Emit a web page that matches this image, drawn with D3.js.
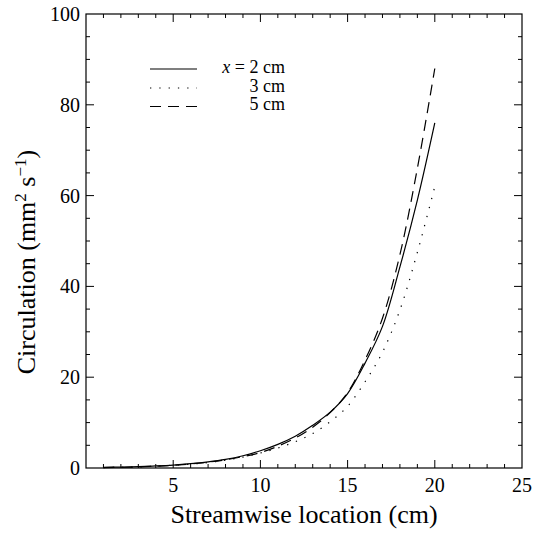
<!DOCTYPE html>
<html><head><meta charset="utf-8">
<script src="https://cdn.jsdelivr.net/npm/d3@7"></script>
<style>body{margin:0;background:#fff}svg{display:block}
svg text{font-family:"Liberation Serif","DejaVu Serif","Noto Serif",serif;}</style>
</head><body>
<script>
const xs = [1,2,3,4,5,6,7,8,9,10,11,12,13,14,15,16,17,18,19,20];
const solid  = [0.15,0.2,0.3,0.45,0.65,0.95,1.35,1.9,2.7,3.8,5.2,7.0,9.4,12.3,16.4,23.1,31.2,44.3,59,76];
const dotted = [0.1,0.15,0.25,0.4,0.6,0.85,1.2,1.7,2.4,3.3,4.4,5.8,7.6,10.2,13.6,19,25.5,34.8,47.5,62];
const dashed = [0.1,0.15,0.25,0.4,0.6,0.9,1.3,1.8,2.5,3.4,4.8,6.6,9.0,12.2,16.6,23.8,33,47,66,88];
const legendLabels = ["2 cm","3 cm","5 cm"];
const xTicks = [5,10,15,20,25];
const yTicks = [0,20,40,60,80,100];

const W=533,H=537;
const svg=d3.select("body").append("svg").attr("width",W).attr("height",H);
const x=d3.scaleLinear().domain([0,25]).range([86,522]);
const y=d3.scaleLinear().domain([0,100]).range([468,14]);

// frame
svg.append("rect").attr("x",86).attr("y",14).attr("width",436).attr("height",454)
  .attr("fill","none").attr("stroke","#000").attr("stroke-width",1.2);

// ticks
const g=svg.append("g").attr("stroke","#000").attr("stroke-width",1);
d3.range(1,25).forEach(v=>{
  const L = v%5===0?8:4;
  g.append("line").attr("x1",x(v)).attr("x2",x(v)).attr("y1",468).attr("y2",468-L);
  g.append("line").attr("x1",x(v)).attr("x2",x(v)).attr("y1",14).attr("y2",14+L);
});
d3.range(5,100,5).forEach(v=>{
  const L = v%20===0?8:4;
  g.append("line").attr("y1",y(v)).attr("y2",y(v)).attr("x1",86).attr("x2",86+L);
  g.append("line").attr("y1",y(v)).attr("y2",y(v)).attr("x1",522).attr("x2",522-L);
});

// tick labels
svg.selectAll(".xt").data(xTicks).enter().append("text")
  .attr("x",d=>x(d)).attr("y",492).attr("text-anchor","middle").attr("font-size",20).text(d=>d);
svg.selectAll(".yt").data(yTicks).enter().append("text")
  .attr("x",80).attr("y",d=>y(d)+7).attr("text-anchor","end").attr("font-size",20).text(d=>d);

// axis titles
svg.append("text").attr("x",304).attr("y",523).attr("text-anchor","middle").attr("font-size",26)
  .text("Streamwise location (cm)");
const yt=svg.append("text").attr("transform","translate(35,262) rotate(-90)").attr("text-anchor","middle").attr("font-size",26);
yt.append("tspan").text("Circulation (mm");
yt.append("tspan").attr("font-size",17).attr("dy",-9).text("2");
yt.append("tspan").attr("dy",9).text(" s");
yt.append("tspan").attr("font-size",17).attr("dy",-9).text("\u22121");
yt.append("tspan").attr("dy",9).text(")");

// curves
const line=d3.line().x(d=>x(d[0])).y(d=>y(d[1])).curve(d3.curveCatmullRom.alpha(0.5));
const series=[
  {v:solid, dash:null},
  {v:dotted, dash:"1.3,8"},
  {v:dashed, dash:"11,7"}
];
series.forEach(s=>{
  svg.append("path").datum(xs.map((xv,i)=>[xv,s.v[i]])).attr("d",line)
    .attr("fill","none").attr("stroke","#000").attr("stroke-width",1.2)
    .attr("stroke-dasharray",s.dash);
});

// legend
const ly=[69,88,106.5];
series.forEach((s,i)=>{
  svg.append("line").attr("x1",150).attr("x2",197).attr("y1",ly[i]).attr("y2",ly[i])
    .attr("stroke","#000").attr("stroke-width",1.2).attr("stroke-dasharray",s.dash);
});
const t0=svg.append("text").attr("x",285).attr("y",73).attr("text-anchor","end").attr("font-size",18);
t0.append("tspan").attr("font-style","italic").text("x");
t0.append("tspan").text(" = "+legendLabels[0]);
svg.append("text").attr("x",285).attr("y",91.5).attr("text-anchor","end").attr("font-size",18).text(legendLabels[1]);
svg.append("text").attr("x",285).attr("y",110).attr("text-anchor","end").attr("font-size",18).text(legendLabels[2]);
</script>
</body></html>
